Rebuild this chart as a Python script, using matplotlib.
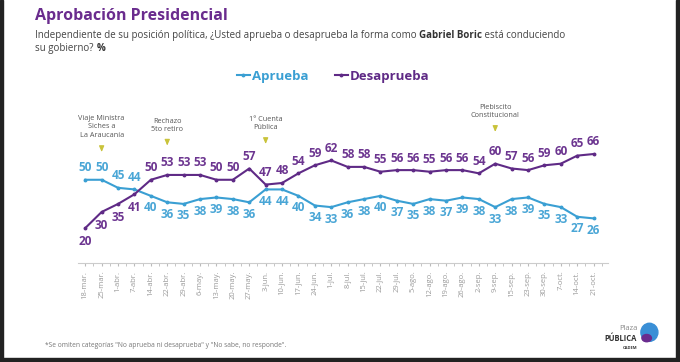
import numpy as np
import matplotlib.pyplot as plt
from matplotlib.patches import Rectangle, Ellipse

# fechas de medición
fechas = ['18-mar.', '25-mar.', '1-abr.', '7-abr.', '14-abr.', '22-abr.', '29-abr.',
          '6-may.', '13-may.', '20-may.', '27-may.', '3-jun.', '10-jun.', '17-jun.',
          '24-jun.', '1-jul.', '8-jul.', '15-jul.', '22-jul.', '29-jul.', '5-ago.',
          '12-ago.', '19-ago.', '26-ago.', '2-sep.', '9-sep.', '15-sep.', '23-sep.',
          '30-sep.', '7-oct.', '14-oct.', '21-oct.']
aprueba = [50, 50, 45, 44, 40, 36, 35, 38, 39, 38, 36, 44, 44, 40, 34, 33,
           36, 38, 40, 37, 35, 38, 37, 39, 38, 33, 38, 39, 35, 33, 27, 26]
desaprueba = [20, 30, 35, 41, 50, 53, 53, 53, 50, 50, 57, 47, 48, 54, 59, 62,
              58, 58, 55, 56, 56, 55, 56, 56, 54, 60, 57, 56, 59, 60, 65, 66]

# hitos: (índice de fecha, texto)
hitos = [(1, 'Viaje Ministra\nSiches a\nLa Araucanía'),
         (5, 'Rechazo\n5to retiro'),
         (11, '1° Cuenta\nPública'),
         (25, 'Plebiscito\nConstitucional')]
hito_y = [(75.5, 72.5, 65.5), (79, 76.5, 69.5), (80, 77.5, 70.5), (87.5, 85, 78)]

AZUL = '#3a9fd3'
MORADO = '#5f2a86'
plt.rcParams['font.family'] = ['Open Sans', 'DejaVu Sans']

fig = plt.figure(figsize=(6.8, 3.62), dpi=100)
ax = fig.add_axes([0.115, 0.2735, 0.779, 0.45])
x = np.arange(len(fechas))

ax.plot(x, aprueba, color=AZUL, lw=1.5, marker='o', ms=1.8, label='Aprueba')
ax.plot(x, desaprueba, color=MORADO, lw=1.5, marker='o', ms=1.8, label='Desaprueba')

for i in x:
    # etiquetas de aprueba: arriba las primeras 4, después abajo
    if i < 4:
        ax.annotate(str(aprueba[i]), (i, aprueba[i]), xytext=(0, 4), textcoords='offset points',
                    ha='center', va='bottom', fontsize=8.5, fontweight='bold', color='#4aa6d6')
    else:
        ax.annotate(str(aprueba[i]), (i, aprueba[i]), xytext=(0, -4), textcoords='offset points',
                    ha='center', va='top', fontsize=8.5, fontweight='bold', color='#4aa6d6')
    if i < 4:
        ax.annotate(str(desaprueba[i]), (i, desaprueba[i]), xytext=(0, -5), textcoords='offset points',
                    ha='center', va='top', fontsize=8.5, fontweight='bold', color='#6c3590')
    else:
        ax.annotate(str(desaprueba[i]), (i, desaprueba[i]), xytext=(0, 4), textcoords='offset points',
                    ha='center', va='bottom', fontsize=8.5, fontweight='bold', color='#6c3590')

for (i, txt), (ty, a0, a1) in zip(hitos, hito_y):
    ax.text(i, ty, txt, ha='center', va='bottom', fontsize=5.2, color='#555555', linespacing=1.3)
    ax.annotate('', xy=(i, a1), xytext=(i, a0),
                arrowprops=dict(arrowstyle='-|>,head_length=0.35,head_width=0.15',
                                color='#c9c33a', lw=0.8))

ax.set_xlim(-0.43, 31.87)
ax.set_ylim(-1.7, 99.5)
ax.set_xticks(x)
ax.set_xticklabels(fechas, rotation=90, fontsize=5.5, color='#9a9a9a')
ax.set_xticks(x + 0.5, minor=True)
ax.tick_params(axis='x', which='both', length=2.5, color='#bbbbbb', pad=3)
ax.set_yticks([])
for s in ['top', 'right', 'left']:
    ax.spines[s].set_visible(False)
ax.spines['bottom'].set_color('#cccccc')
ax.spines['bottom'].set_linewidth(0.8)

leg = ax.legend(loc='center', bbox_to_anchor=(0.49, 0.79), bbox_transform=fig.transFigure,
                ncol=2, frameon=False, handlelength=1.0, columnspacing=2.0, handletextpad=0.15,
                prop={'weight': 'bold', 'size': 9.5}, labelcolor='linecolor')

# títulos
fig.text(0.052, 0.945, 'Aprobación Presidencial', fontsize=11.5, fontweight='bold',
         color='#6a2c8e', va='baseline')
t1 = fig.text(0.052, 0.895, 'Independiente de su posición política, ¿Usted aprueba o desaprueba la forma como ',
              fontsize=7, color='#444444', va='baseline')
t3 = fig.text(0.052, 0.86, 'su gobierno? ', fontsize=7, color='#444444', va='baseline')
fig.canvas.draw()
r = fig.canvas.get_renderer()
bb = t1.get_window_extent(r)
t2 = fig.text(bb.x1 / fig.bbox.width, 0.895, 'Gabriel Boric', fontsize=7, color='#333333',
              fontweight='bold', va='baseline')
bb2 = t2.get_window_extent(r)
fig.text(bb2.x1 / fig.bbox.width, 0.895, ' está conduciendo', fontsize=7, color='#444444', va='baseline')
bb3 = t3.get_window_extent(r)
fig.text(bb3.x1 / fig.bbox.width, 0.86, '%', fontsize=7, color='#333333', fontweight='bold', va='baseline')

fig.text(0.066, 0.042, '*Se omiten categorías "No aprueba ni desaprueba" y "No sabe, no responde".',
         fontsize=4.8, color='#777777', va='baseline')

# logo
fig.text(0.937, 0.088, 'Plaza', fontsize=5.5, color='#888888', ha='right', va='baseline')
fig.text(0.937, 0.058, 'PÚBLICA', fontsize=5.5, color='#333333', fontweight='bold', ha='right', va='baseline')
fig.text(0.937, 0.036, 'CADEM', fontsize=3, color='#333333', fontweight='bold', ha='right', va='baseline')
fig.patches.append(Ellipse((0.955, 0.082), 0.025, 0.05, transform=fig.transFigure, color='#3a8fd6',
                           figure=fig))
fig.patches.append(Ellipse((0.951, 0.066), 0.014, 0.02, transform=fig.transFigure, color='#6a2c8e',
                           figure=fig))

# marco oscuro
fig.patches.append(Rectangle((0, 0), 0.005, 1, transform=fig.transFigure, color='#222222', figure=fig))
fig.patches.append(Rectangle((0.994, 0), 0.006, 1, transform=fig.transFigure, color='#222222', figure=fig))
fig.patches.append(Rectangle((0, 0), 1, 0.01, transform=fig.transFigure, color='#222222', figure=fig))

fig.savefig('out.png', dpi=100)
